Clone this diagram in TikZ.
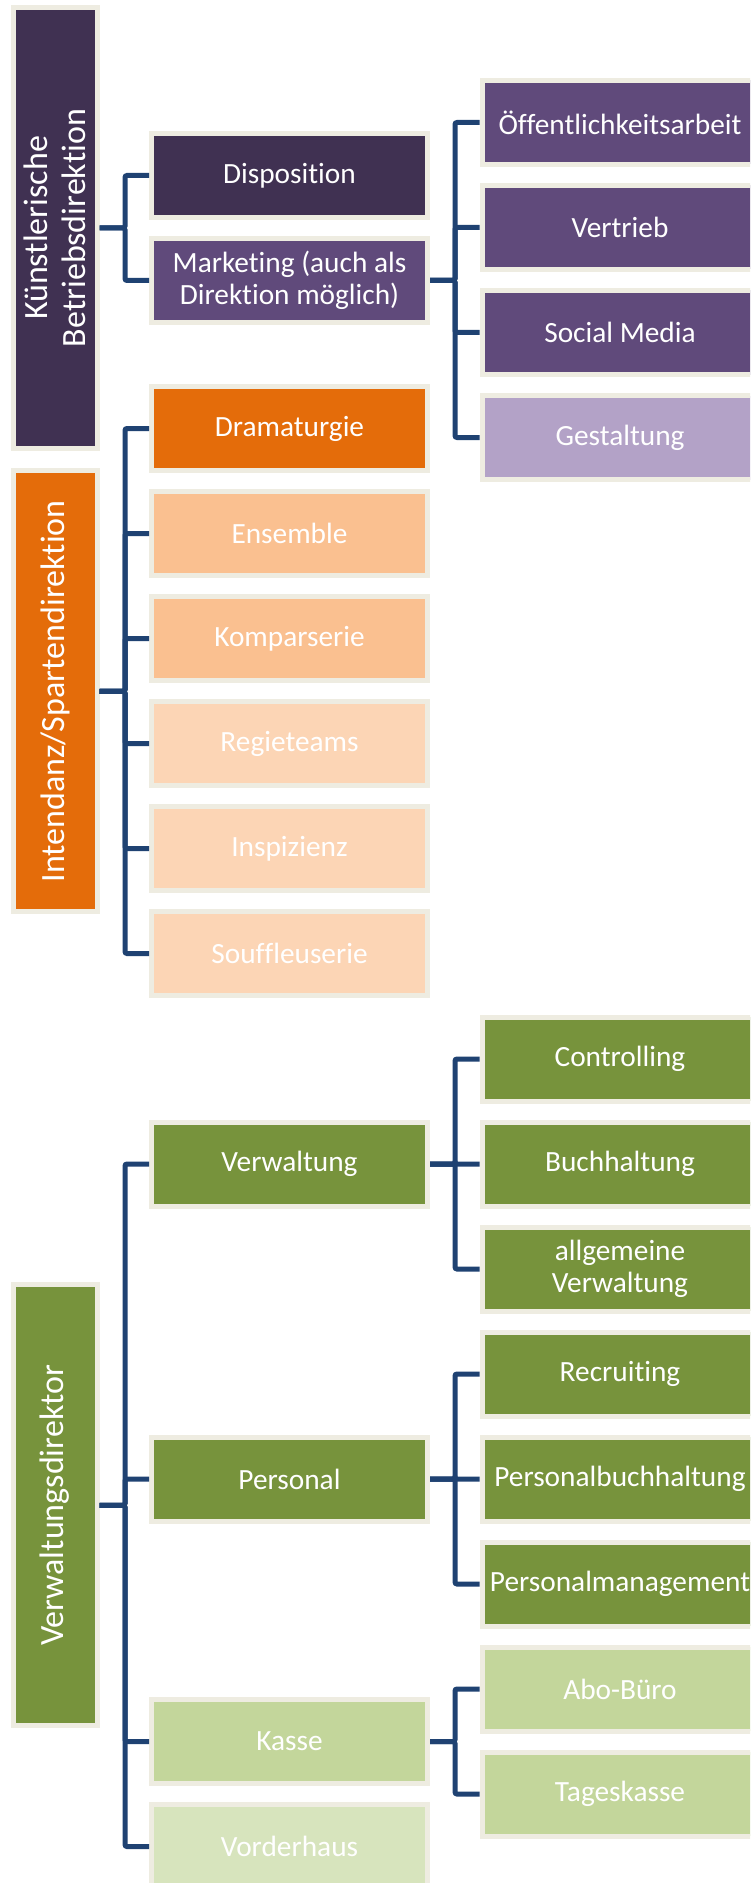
\documentclass[tikz,border=0pt]{standalone}
\usepackage{fontspec}
\setmainfont{Carlito}[Ligatures={NoCommon,NoRequired,NoContextual},Contextuals=NoAlternate]
\definecolor{bordercol}{HTML}{EEECE1}
\definecolor{conncol}{HTML}{1F4272}
\definecolor{dkpurple}{HTML}{403152}
\definecolor{purple}{HTML}{604A7B}
\definecolor{ltpurple}{HTML}{B3A2C7}
\definecolor{orange}{HTML}{E46C0A}
\definecolor{ltorange}{HTML}{FAC090}
\definecolor{plorange}{HTML}{FCD5B5}
\definecolor{green}{HTML}{77933C}
\definecolor{ltgreen}{HTML}{C3D69B}
\definecolor{plgreen}{HTML}{D7E4BD}
\begin{document}
\begin{tikzpicture}[x=0.75pt,y=-0.75pt,
  box/.style={draw=bordercol, line width=3.75pt, minimum width=207pt, minimum height=63pt,
    inner sep=0pt, text=white, align=center, font=\fontsize{22}{24}\selectfont},
  headbox/.style={draw=bordercol, line width=3.75pt, rotate=90, minimum width=330.75pt,
    minimum height=63pt, inner sep=0pt, text=white, align=center,
    font=\fontsize{25.5}{28.5}\selectfont},
  conn/.style={draw=conncol, line width=3.75pt, rounded corners=1.5pt}
]
\useasboundingbox (0,0) rectangle (750,1883);
\fill[white] (0,0) rectangle (750,1883);
\clip (0,0) rectangle (750,1883);

% column 1
\node[headbox, fill=dkpurple] (kb) at (55,228) {Künstlerische\\Betriebsdirektion};
\node[headbox, fill=orange] (intd) at (55,691.4) {Intendanz/Spartendirektion};
\node[headbox, fill=green] (vd) at (55,1505.3) {Verwaltungsdirektor};

% column 2
\node[box, fill=dkpurple] (dispo) at (289.5,175.5) {Disposition};
\node[box, fill=purple] (mark) at (289.5,280.5) {Marketing (auch als\\Direktion möglich)};
\node[box, fill=orange] (drama) at (289.5,428.5) {Dramaturgie};
\node[box, fill=ltorange] (ens) at (289.5,533.5) {Ensemble};
\node[box, fill=ltorange] (komp) at (289.5,638.5) {Komparserie};
\node[box, fill=plorange] (regie) at (289.5,743.5) {Regieteams};
\node[box, fill=plorange] (insp) at (289.5,848.5) {Inspizienz};
\node[box, fill=plorange] (souf) at (289.5,953.5) {Souffleuserie};
\node[box, fill=green] (verw) at (289.5,1164) {Verwaltung};
\node[box, fill=green] (pers) at (289.5,1479) {Personal};
\node[box, fill=ltgreen] (kasse) at (289.5,1741.5) {Kasse};
\node[box, fill=plgreen] (vorder) at (289.5,1846.5) {Vorderhaus};

% column 3
\node[box, fill=purple] (oeff) at (620,122.5) {Öffentlichkeitsarbeit};
\node[box, fill=purple] (vertr) at (620,227.5) {Vertrieb};
\node[box, fill=purple] (social) at (620,332.5) {Social Media};
\node[box, fill=ltpurple] (gest) at (620,437.5) {Gestaltung};
\node[box, fill=green] (contr) at (620,1059) {Controlling};
\node[box, fill=green] (buch) at (620,1164) {Buchhaltung};
\node[box, fill=green] (allg) at (620,1269) {allgemeine\\Verwaltung};
\node[box, fill=green] (recr) at (620,1374) {Recruiting};
\node[box, fill=green] (pbuch) at (620,1479) {Personalbuchhaltung};
\node[box, fill=green] (pman) at (620,1584) {Personalmanagement};
\node[box, fill=ltgreen] (abo) at (620,1689) {Abo-Büro};
\node[box, fill=ltgreen] (tage) at (620,1794) {Tageskasse};

% connectors column 1 -> column 2
\foreach \c in {dispo,mark} \draw[conn] (kb.south) -- ++(25.5,0) |- (\c.west);
\foreach \c in {drama,ens,komp,regie,insp,souf} \draw[conn] (intd.south) -- ++(25.5,0) |- (\c.west);
\foreach \c in {verw,pers,kasse,vorder} \draw[conn] (vd.south) -- ++(25.5,0) |- (\c.west);

% connectors column 2 -> column 3
\foreach \c in {oeff,vertr,social,gest} \draw[conn] (mark.east) -- ++(25,0) |- (\c.west);
\foreach \c in {contr,buch,allg} \draw[conn] (verw.east) -- ++(25,0) |- (\c.west);
\foreach \c in {recr,pbuch,pman} \draw[conn] (pers.east) -- ++(25,0) |- (\c.west);
\foreach \c in {abo,tage} \draw[conn] (kasse.east) -- ++(25,0) |- (\c.west);
\end{tikzpicture}
\end{document}
